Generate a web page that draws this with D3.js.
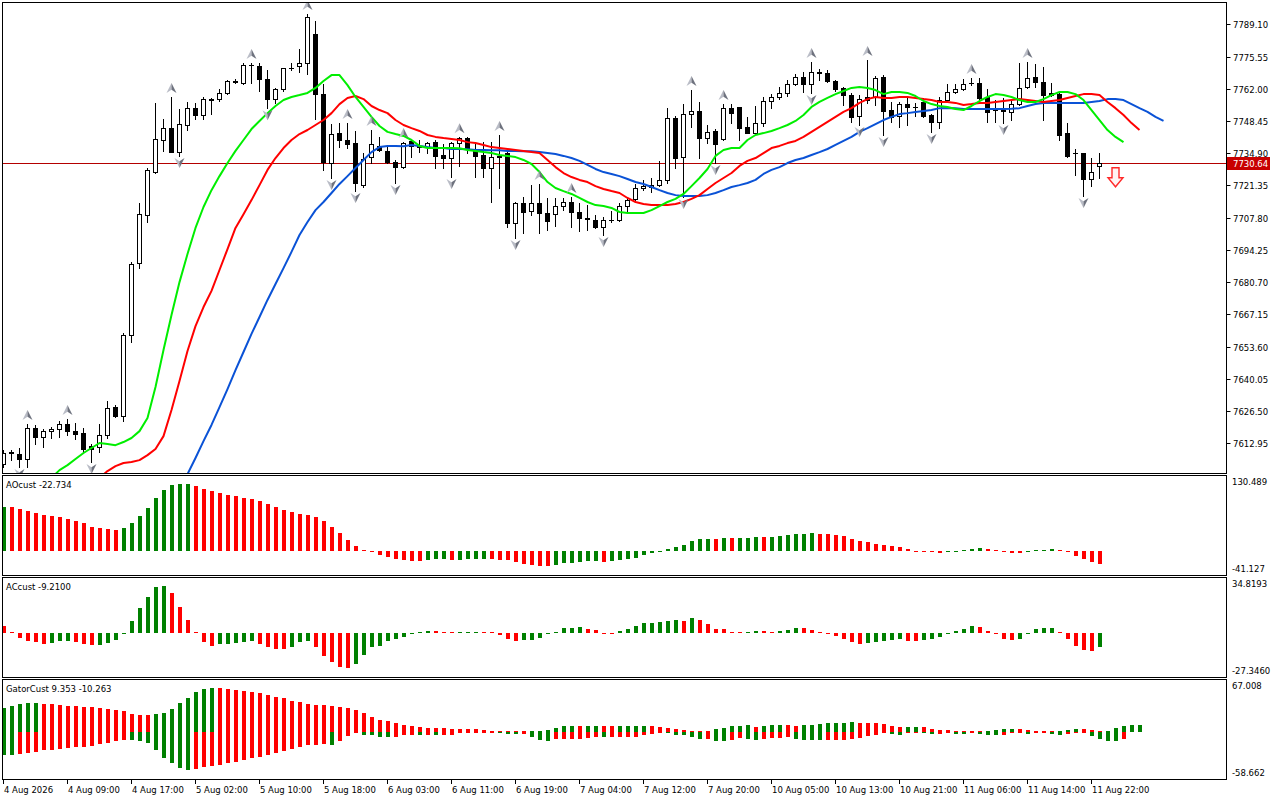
<!DOCTYPE html>
<html>
<head>
<meta charset="utf-8">
<script src="https://cdn.jsdelivr.net/npm/d3@7"></script>
<style>
  body { margin: 0; background: #fff; }
  svg { display: block; }
  text { font-family: "DejaVu Sans", sans-serif; font-size: 8.5px; fill: #000; }
</style>
</head>
<body>
<svg id="chart" width="1280" height="800"></svg>
<script>
// ---- candles (hourly bars) ----
var opens = [7604.1,7609.2,7608.3,7606.2,7619.3,7615.6,7618.0,7618.9,7621.0,7618.0,
  7617.2,7611.7,7611.3,7616.4,7628.1,7624.4,7658.4,7688.7,7708.9,7727.0,
  7740.5,7745.5,7735.4,7746.8,7753.9,7751.0,7757.7,7757.7,7760.3,7764.9,
  7764.5,7772.0,7771.6,7766.2,7757.7,7761.9,7770.8,7771.6,7772.9,7785.1,
  7759.8,7730.8,7743.4,7740.5,7739.2,7721.6,7733.3,7738.0,7735.9,7731.2,
  7729.1,7740.1,7738.0,7737.5,7739.6,7734.2,7732.9,7739.2,7741.3,7736.7,
  7734.2,7728.7,7733.8,7735.0,7705.6,7714.0,7710.6,7714.0,7709.8,7709.3,
  7712.7,7714.4,7710.2,7707.7,7706.8,7703.9,7706.8,7706.8,7712.7,7715.7,
  7720.3,7720.7,7721.5,7723.7,7749.7,7733.3,7751.4,7752.7,7741.3,7744.3,
  7740.9,7753.9,7754.4,7745.9,7743.4,7747.6,7756.9,7758.6,7760.3,7764.1,
  7767.0,7764.1,7769.1,7768.7,7765.3,7762.4,7759.4,7750.6,7758.6,7758.6,
  7767.0,7753.1,7750.6,7755.6,7754.4,7756.5,7751.0,7748.1,7757.3,7760.7,
  7761.9,7764.5,7764.5,7758.6,7753.1,7753.1,7752.3,7755.6,7762.8,7767.0,
  7764.9,7760.3,7759.8,7743.4,7735.0,7735.0,7724.1,7729.5];
var highs = [7610.0,7610.0,7610.9,7621.0,7620.6,7618.9,7619.7,7622.3,7623.1,7621.4,
  7619.3,7612.6,7621.0,7630.7,7629.0,7659.3,7689.1,7714.0,7728.7,7756.1,
  7749.3,7758.6,7753.5,7756.5,7756.1,7758.6,7758.2,7761.9,7765.7,7766.2,
  7772.9,7772.9,7772.9,7769.9,7762.4,7770.8,7772.9,7778.8,7793.5,7790.6,
  7764.1,7747.2,7747.6,7747.6,7744.3,7735.0,7744.7,7741.7,7737.5,7732.1,
  7739.6,7740.5,7740.5,7739.6,7740.5,7738.8,7739.6,7741.7,7741.7,7739.6,
  7739.6,7739.6,7742.6,7735.4,7714.4,7716.5,7721.5,7722.0,7716.1,7716.1,
  7716.1,7716.5,7714.0,7713.1,7708.9,7708.1,7710.6,7714.0,7716.5,7722.0,
  7723.7,7724.5,7731.6,7753.9,7750.6,7755.6,7761.5,7756.5,7746.8,7745.1,
  7755.6,7755.6,7754.4,7750.2,7754.8,7758.6,7759.8,7762.8,7765.7,7768.3,
  7769.1,7773.3,7770.4,7769.9,7765.7,7762.8,7760.3,7759.4,7774.2,7767.4,
  7767.8,7756.5,7756.5,7758.6,7756.1,7758.2,7751.4,7758.6,7764.1,7764.1,
  7766.2,7766.6,7766.6,7761.9,7757.3,7758.2,7757.3,7772.9,7773.3,7772.5,
  7771.2,7764.5,7760.3,7747.6,7736.7,7735.0,7732.9,7735.0];
var lows = [7602.9,7605.8,7602.9,7602.9,7612.6,7611.3,7615.1,7615.6,7616.4,7614.7,
  7608.8,7605.0,7609.2,7615.1,7623.9,7622.3,7655.5,7686.6,7706.0,7726.6,
  7735.9,7735.4,7733.8,7744.7,7749.3,7749.3,7751.4,7756.9,7759.8,7764.5,
  7764.1,7764.5,7761.1,7753.9,7756.1,7761.1,7769.9,7769.1,7768.3,7749.3,
  7727.9,7724.5,7737.5,7737.1,7719.0,7720.7,7730.8,7735.9,7730.8,7722.4,
  7728.7,7733.3,7735.4,7735.0,7728.7,7728.7,7724.9,7729.5,7735.0,7724.9,
  7724.9,7714.4,7720.3,7703.9,7699.3,7701.4,7708.9,7701.4,7702.6,7704.3,
  7711.0,7703.9,7702.2,7702.6,7703.5,7700.5,7706.0,7706.4,7710.6,7715.2,
  7719.4,7718.6,7721.1,7722.4,7728.7,7716.5,7745.9,7732.9,7739.2,7730.8,
  7740.5,7747.6,7740.5,7743.4,7742.6,7746.4,7753.9,7757.7,7759.0,7763.6,
  7760.7,7760.3,7765.7,7764.9,7761.1,7755.2,7748.1,7746.8,7756.1,7755.2,
  7742.6,7748.1,7745.9,7746.8,7750.6,7750.2,7743.9,7745.5,7756.5,7760.3,
  7761.5,7763.6,7757.3,7748.1,7748.1,7747.6,7748.9,7755.2,7762.4,7762.8,
  7748.9,7759.0,7740.5,7733.3,7725.8,7716.9,7721.1,7724.5];
var closes = [7608.8,7608.8,7606.2,7619.3,7615.6,7618.0,7618.9,7621.0,7618.0,7616.8,
  7610.5,7610.5,7616.4,7627.7,7624.4,7658.4,7688.3,7709.3,7727.9,7740.9,
  7745.5,7735.4,7747.2,7753.9,7751.0,7757.7,7757.3,7760.3,7765.3,7765.3,
  7772.0,7771.9,7766.2,7757.7,7761.9,7770.8,7770.9,7772.9,7792.2,7759.8,
  7731.2,7743.0,7740.5,7738.8,7722.4,7732.5,7738.8,7736.3,7731.2,7729.1,
  7739.2,7738.0,7737.7,7739.2,7733.8,7732.9,7739.2,7741.3,7736.7,7733.8,
  7728.7,7733.3,7733.3,7705.6,7714.0,7710.2,7714.0,7709.8,7706.4,7712.7,
  7714.4,7710.2,7707.7,7707.2,7703.9,7706.8,7706.9,7712.7,7715.2,7720.3,
  7721.1,7721.5,7723.7,7749.7,7732.9,7751.4,7752.7,7741.3,7743.9,7738.8,
  7753.9,7751.8,7745.5,7743.4,7747.6,7756.9,7758.6,7760.3,7764.1,7767.0,
  7764.1,7769.1,7768.7,7765.3,7761.9,7759.4,7750.2,7757.7,7757.3,7766.6,
  7752.7,7750.2,7755.6,7754.4,7754.3,7750.6,7748.1,7757.3,7760.7,7761.9,
  7764.1,7764.6,7758.2,7752.3,7753.2,7752.7,7755.6,7762.4,7766.6,7764.9,
  7759.4,7759.4,7742.6,7733.8,7734.9,7724.1,7727.0,7730.64];

// ---- alligator lines, as plotted (already shifted), first bar index of each ----
var jawStart = 22;
var jaw = [7591.1,7599.9,7606.7,7613.8,7620.6,7628.1,7635.7,7643.7,7651.3,7658.9,
  7666.0,7673.2,7679.9,7686.6,7693.4,7700.5,7706.0,7711.0,7714.4,7718.2,
  7722.0,7725.3,7728.7,7732.1,7735.4,7737.5,7738.0,7738.0,7737.9,7738.4,
  7738.0,7737.5,7737.1,7737.1,7736.7,7736.7,7736.6,7736.3,7736.3,7736.2,
  7736.2,7735.9,7735.9,7735.8,7735.8,7735.4,7735.0,7734.6,7733.8,7732.9,
  7731.7,7730.0,7728.3,7727.0,7726.2,7725.3,7724.1,7722.8,7722.0,7720.7,
  7719.4,7718.2,7717.3,7716.9,7716.9,7716.9,7717.3,7718.2,7719.4,7720.7,
  7721.5,7722.4,7723.7,7726.2,7727.9,7729.1,7730.8,7732.1,7732.9,7734.2,
  7735.4,7736.7,7738.4,7740.1,7741.8,7743.9,7745.5,7747.2,7748.9,7750.2,
  7751.4,7751.8,7752.3,7752.7,7753.1,7753.9,7754.0,7753.9,7753.5,7753.5,
  7753.5,7753.5,7753.5,7753.5,7753.6,7753.9,7754.8,7755.6,7756.1,7756.1,
  7756.1,7756.1,7756.1,7756.1,7756.5,7756.9,7757.7,7757.7,7757.3,7755.6,
  7753.9,7752.3,7750.2,7748.5];
var teethStart = 12;
var teeth = [7598.3,7601.2,7603.3,7604.6,7605.0,7605.8,7607.9,7610.5,7615.9,7626.9,
  7639.1,7651.7,7662.2,7670.2,7677.0,7685.8,7694.6,7703.5,7709.3,7715.2,
  7721.5,7727.9,7732.9,7737.1,7740.5,7743.0,7744.7,7746.8,7748.9,7751.8,
  7755.6,7758.2,7759.0,7757.7,7754.8,7753.1,7751.8,7748.9,7746.8,7745.5,
  7744.3,7742.6,7741.8,7741.3,7740.9,7740.5,7739.6,7739.2,7738.4,7737.5,
  7737.1,7736.7,7736.3,7735.9,7735.4,7735.0,7732.1,7729.1,7726.6,7724.9,
  7723.7,7722.8,7721.1,7719.9,7719.0,7718.2,7716.1,7714.4,7713.6,7713.1,
  7713.1,7713.1,7713.6,7714.4,7715.7,7717.3,7719.9,7722.4,7724.5,7726.6,
  7729.6,7731.7,7732.9,7735.0,7737.1,7738.0,7739.2,7740.1,7741.8,7743.9,
  7746.0,7748.1,7750.2,7752.3,7753.9,7756.1,7757.7,7758.6,7758.2,7758.2,
  7758.6,7758.6,7758.2,7757.7,7757.3,7756.5,7756.5,7756.1,7755.2,7755.6,
  7756.1,7756.1,7756.5,7756.9,7757.3,7757.7,7757.3,7756.9,7756.5,7756.9,
  7757.3,7758.2,7759.0,7759.8,7759.8,7759.4,7756.5,7753.9,7751.0,7747.6,
  7744.7];
var lipsStart = 6;
var lips = [7598.3,7601.6,7603.7,7606.3,7608.8,7610.9,7613.0,7612.6,7612.1,7613.4,
  7615.1,7618.0,7623.5,7636.6,7652.1,7666.9,7680.7,7692.5,7703.5,7712.3,
  7719.4,7725.3,7730.8,7735.9,7740.5,7745.1,7748.5,7751.8,7754.8,7757.3,
  7758.6,7759.4,7760.3,7762.4,7765.3,7767.8,7767.8,7763.6,7758.6,7754.4,
  7750.2,7746.4,7743.9,7743.0,7742.2,7740.5,7738.0,7737.1,7737.1,7737.1,
  7737.1,7737.0,7736.3,7735.9,7735.4,7735.0,7734.2,7733.8,7733.3,7732.1,
  7730.4,7727.0,7722.8,7720.3,7719.0,7717.8,7716.1,7714.4,7713.1,7712.7,
  7711.9,7710.2,7709.8,7709.8,7709.8,7711.0,7712.7,7714.4,7715.7,7717.8,
  7721.1,7724.5,7728.3,7733.8,7736.3,7737.1,7737.1,7740.5,7742.6,7743.4,
  7744.3,7745.5,7746.8,7748.5,7751.0,7754.4,7756.5,7758.2,7759.8,7761.1,
  7762.4,7762.8,7762.4,7761.5,7759.8,7760.7,7760.7,7760.3,7759.0,7756.9,
  7755.6,7754.8,7754.4,7753.5,7753.1,7754.8,7756.9,7758.6,7759.8,7759.4,
  7758.6,7757.3,7756.5,7756.5,7757.7,7759.4,7760.7,7760.7,7759.8,7757.3,
  7753.1,7748.9,7744.7,7741.8,7739.6];

// ---- fractals (bar indices) ----
var upFractals = [3, 8, 21, 31, 38, 43, 46, 50, 57, 62, 67, 71, 86, 90, 101, 108, 121, 128];
var downFractals = [2, 11, 22, 33, 41, 44, 49, 56, 64, 75, 85, 89, 101, 107, 110, 116, 125, 135];

// ---- oscillators ----
var aoBefore = 79.0;
var aoValues = [80.0,79.6,75.9,72.8,68.6,65.0,63.2,62.0,58.4,54.8,
  50.6,44.6,41.5,40.3,37.9,41.5,50.6,63.2,77.7,95.7,
  110.2,119.2,121.6,121.7,117.4,112.0,108.4,104.8,101.1,99.3,
  95.7,93.9,90.3,84.9,79.5,74.1,70.4,66.8,65.0,61.4,
  54.2,43.3,32.5,20.5,9.0,1.8,-0.6,-7.2,-10.2,-13.8,
  -15.7,-16.9,-18.1,-15.7,-13.8,-13.6,-15.7,-15.1,-13.8,-13.7,
  -13.6,-14.0,-15.1,-16.3,-19.9,-23.5,-25.3,-27.1,-27.2,-25.3,
  -21.1,-21.0,-19.9,-18.1,-18.0,-19.9,-18.1,-16.3,-14.4,-12.6,
  -6.6,-3.6,-1.2,3.6,7.2,10.8,18.1,21.7,21.8,21.6,
  23.5,23.4,23.5,23.6,25.3,25.2,25.3,27.1,28.9,30.7,
  30.8,32.5,30.7,30.6,28.9,27.1,21.7,18.1,16.3,12.6,
  10.8,9.0,7.2,3.6,-0.6,-1.2,-1.3,-3.0,-1.8,-1.2,
  1.8,3.6,5.4,3.6,0.6,-0.6,-3.0,-3.1,-1.8,1.8,
  1.9,3.6,1.8,-1.8,-9.0,-14.4,-19.9,-22.734];
var aoRange = [-41.127, 130.489];

var acBefore = 5.5;
var acValues = [4.4,0.3,-3.5,-5.5,-5.9,-7.2,-6.5,-5.5,-5.4,-5.9,
  -7.2,-7.9,-7.8,-6.5,-4.8,-0.1,7.6,16.1,23.3,29.9,
  30.8,26.0,16.8,8.3,0.2,-5.9,-8.7,-7.4,-7.3,-6.5,
  -5.9,-5.4,-7.2,-9.2,-10.5,-10.7,-9.2,-5.9,-5.2,-9.2,
  -15.3,-19.0,-22.2,-22.9,-20.3,-14.6,-9.2,-8.5,-5.2,-3.9,
  -2.6,-0.8,0.4,1.0,0.8,0.2,0.1,0.3,0.4,0.5,
  0.2,0.1,-1.8,-4.0,-5.2,-4.6,-4.5,-3.3,-0.3,0.2,
  3.3,3.4,3.5,2.6,2.0,-0.4,-0.5,1.1,2.4,4.4,
  6.3,6.4,7.0,7.6,8.3,7.6,9.6,8.3,5.7,2.4,
  2.3,0.3,0.2,0.3,1.1,1.0,0.4,1.1,1.7,3.1,
  3.0,1.7,0.3,-0.2,-2.0,-3.9,-5.9,-7.2,-6.5,-5.9,
  -5.2,-4.6,-3.9,-5.2,-5.3,-4.6,-3.9,-2.6,-0.3,1.1,
  2.4,4.4,3.7,1.1,-1.1,-3.9,-4.6,-3.9,-0.3,2.4,
  3.1,3.2,0.4,-3.9,-8.5,-11.1,-11.8,-9.21];
var acRange = [-27.346, 34.8193];

var gatorUpperBefore = 31.0;
var gatorUpper = [31.7,33.5,36.2,37.5,37.6,36.2,36.1,34.8,33.5,33.3,
  33.1,32.2,30.9,29.5,28.2,27.3,23.4,21.6,21.4,23.4,
  24.7,29.5,37.5,44.1,52.0,56.0,57.3,57.2,56.5,55.6,
  54.0,52.5,51.0,49.0,46.5,44.0,41.0,38.8,37.0,35.5,
  34.6,33.5,32.5,31.5,29.0,25.0,19.5,15.5,13.5,11.0,
  9.0,7.2,6.3,5.1,4.7,4.2,4.1,3.8,3.0,2.9,
  2.1,1.3,0.9,0.8,0.4,0.1,0.4,0.5,2.0,4.4,
  7.0,7.1,7.0,7.1,7.2,7.1,7.0,7.1,7.2,7.3,
  7.4,7.1,5.7,4.4,3.1,1.8,0.9,0.2,0.1,3.1,
  4.4,7.1,7.2,8.4,5.7,7.1,8.4,8.5,8.4,7.1,
  8.4,8.5,9.7,11.0,11.1,11.2,12.3,11.0,10.9,10.8,
  9.7,7.1,5.7,5.8,5.9,5.7,3.1,1.8,1.7,0.9,
  0.8,0.7,0.1,0.2,1.8,3.1,3.2,3.1,1.8,0.9,
  0.3,0.1,0.2,1.8,3.1,3.0,1.8,0.1,0.3,4.4,
  7.1,8.4,9.353];
var gatorLowerBefore = -30.5;
var gatorLower = [-30.9,-31.0,-30.0,-28.7,-26.9,-24.7,-24.6,-23.4,-21.6,-20.7,
  -20.3,-19.4,-16.8,-14.6,-12.3,-10.6,-11.0,-12.3,-15.4,-24.3,
  -35.3,-41.9,-48.5,-50.7,-48.9,-46.7,-45.4,-44.1,-41.9,-39.7,
  -37.9,-35.3,-33.1,-30.9,-28.2,-25.6,-22.9,-20.3,-18.0,-17.0,
  -16.5,-17.6,-12.2,-5.4,-2.0,-4.4,-4.6,-6.6,-7.1,-6.5,
  -4.9,-4.4,-4.8,-4.5,-4.9,-4.4,-4.0,-1.8,-1.5,-1.0,
  -0.9,-0.8,-1.8,-3.1,-3.5,-3.3,-6.6,-11.0,-12.3,-9.7,
  -9.6,-9.5,-9.4,-8.8,-7.4,-7.6,-7.5,-7.4,-7.3,-7.2,
  -4.4,-3.1,-2.2,-2.3,-4.4,-4.5,-7.5,-10.1,-10.0,-12.3,
  -12.4,-11.0,-8.8,-9.7,-11.0,-9.7,-8.8,-8.7,-7.5,-9.7,
  -11.0,-11.1,-11.2,-11.1,-11.0,-10.9,-9.7,-8.8,-6.2,-4.4,
  -2.2,-3.5,-4.4,-2.2,-1.8,-2.2,-3.1,-3.0,-2.2,-3.1,
  -3.2,-1.8,-3.5,-4.4,-4.5,-4.4,-1.8,-1.7,-3.1,-1.3,
  -1.2,-3.1,-4.4,-3.1,-1.8,-1.7,-5.7,-9.7,-12.3,-12.4,
  -10.263];
var gatorRange = [-58.662, 67.008];

// ---- axes ----
var priceRange = [7600.8, 7799.4];
var priceTicks = [7612.95, 7626.50, 7640.05, 7653.60, 7667.15, 7680.70, 7694.25,
  7707.80, 7721.35, 7734.90, 7748.45, 7762.00, 7775.55, 7789.10];
var timeTickBars = [0, 8, 16, 24, 32, 40, 48, 56, 64, 72, 80, 88, 96, 104, 112, 120, 128, 136];
var timeLabels = ["4 Aug 2026", "4 Aug 09:00", "4 Aug 17:00", "5 Aug 02:00", "5 Aug 10:00",
  "5 Aug 18:00", "6 Aug 03:00", "6 Aug 11:00", "6 Aug 19:00", "7 Aug 04:00", "7 Aug 12:00",
  "7 Aug 20:00", "10 Aug 05:00", "10 Aug 13:00", "10 Aug 21:00", "11 Aug 06:00",
  "11 Aug 14:00", "11 Aug 22:00"];
var lastPrice = 7730.64;
var sellSignal = { bar: 139, price: 7725.0 };

var GREEN = "#008000", RED = "#ff0000";
var axisX = 1226.5, leftX = 2.5;

var svg = d3.select("#chart");

// bar index -> pixel centre
var x = d3.scaleLinear().domain([0, 145]).range([3.5, 1163.5]);

var panels = [
  { id: "main",  top: 2.5,   bottom: 473.5 },
  { id: "ao",    top: 475.5, bottom: 575.5 },
  { id: "ac",    top: 577.5, bottom: 677.5 },
  { id: "gator", top: 679.5, bottom: 779.5 }
];

var defs = svg.append("defs");
panels.forEach(function(p) {
  defs.append("clipPath").attr("id", "clip-" + p.id)
    .append("rect")
    .attr("x", leftX + 0.5).attr("y", p.top + 0.5)
    .attr("width", axisX - leftX - 1).attr("height", p.bottom - p.top - 1);
});

var yMain = d3.scaleLinear().domain(priceRange).range([472, 0]);
var yAO = d3.scaleLinear().domain(aoRange).range([574, 479]);
var yAC = d3.scaleLinear().domain(acRange).range([674.5, 579.5]);
var yGator = d3.scaleLinear().domain(gatorRange).range([776, 681]);

var gMain = svg.append("g").attr("clip-path", "url(#clip-main)");

// bid line
var yBid = Math.round(yMain(lastPrice)) + 0.5;
gMain.append("line")
  .attr("x1", leftX).attr("x2", axisX)
  .attr("y1", yBid).attr("y2", yBid)
  .attr("stroke", "#b40000").attr("stroke-width", 1);

// candles
var candle = gMain.selectAll("g.candle")
  .data(closes)
  .enter().append("g").attr("class", "candle");

candle.append("line")
  .attr("x1", function(d, i) { return x(i); })
  .attr("x2", function(d, i) { return x(i); })
  .attr("y1", function(d, i) { return Math.round(yMain(highs[i])); })
  .attr("y2", function(d, i) { return Math.round(yMain(lows[i])) + 1; })
  .attr("stroke", "#000").attr("stroke-width", 1);

candle.each(function(c, i) {
  var g = d3.select(this);
  var yo = Math.round(yMain(opens[i])), yc = Math.round(yMain(c));
  var top = Math.min(yo, yc), bot = Math.max(yo, yc);
  if (bot - top < 1) {
    g.append("line")
      .attr("x1", x(i) - 2.5).attr("x2", x(i) + 2.5)
      .attr("y1", top + 0.5).attr("y2", top + 0.5)
      .attr("stroke", "#000");
  } else {
    g.append("rect")
      .attr("x", x(i) - 2).attr("y", top + 0.5)
      .attr("width", 4).attr("height", bot - top)
      .attr("fill", c >= opens[i] ? "#fff" : "#000")
      .attr("stroke", "#000").attr("stroke-width", 1);
  }
});

// alligator
var lineGen = function(start) {
  return d3.line()
    .x(function(d, i) { return x(start + i); })
    .y(function(d) { return yMain(d); });
};
[[jaw, jawStart, "#0a52d6"], [teeth, teethStart, "#ff0000"], [lips, lipsStart, "#00ee00"]]
  .forEach(function(s) {
    gMain.append("path")
      .datum(s[0])
      .attr("d", lineGen(s[1]))
      .attr("fill", "none")
      .attr("stroke", s[2])
      .attr("stroke-width", 2)
      .attr("stroke-linejoin", "round");
  });

// fractal arrowheads, two-tone grey
function arrowHead(g, cx, cy, dir) {
  var s = 5 * dir;
  g.append("path")
    .attr("d", "M" + cx + "," + (cy - s) + " L" + cx + "," + (cy + s * 0.35) + " L" + (cx - 5) + "," + (cy + s) + "Z")
    .attr("fill", "#b9bcc6");
  g.append("path")
    .attr("d", "M" + cx + "," + (cy - s) + " L" + (cx + 5) + "," + (cy + s) + " L" + cx + "," + (cy + s * 0.35) + "Z")
    .attr("fill", "#6e727e");
}
var gFr = gMain.append("g");
upFractals.forEach(function(b) { arrowHead(gFr, x(b), yMain(highs[b]) - 9, 1); });
downFractals.forEach(function(b) { arrowHead(gFr, x(b), yMain(lows[b]) + 7, -1); });

// sell signal arrow
(function() {
  var cx = x(sellSignal.bar), cy = yMain(sellSignal.price);
  var pts = [[cx - 3.5, cy - 9], [cx + 3.5, cy - 9], [cx + 3.5, cy + 1], [cx + 7.5, cy + 1],
             [cx, cy + 10], [cx - 7.5, cy + 1], [cx - 3.5, cy + 1]];
  gMain.append("path")
    .attr("d", "M" + pts.join("L") + "Z")
    .attr("fill", "#fff4f4")
    .attr("stroke", "#ff2a2a")
    .attr("stroke-width", 1.4);
})();

// oscillator histograms
function histogram(id, values, before, yScale, colorByAbs) {
  var g = svg.append("g").attr("clip-path", "url(#clip-" + id + ")");
  var y0 = Math.round(yScale(0));
  g.selectAll("rect")
    .data(values)
    .enter().append("rect")
    .attr("x", function(d, i) { return x(i) - 1.5; })
    .attr("width", 4)
    .attr("y", function(d) {
      var h = Math.max(1, Math.abs(Math.round(yScale(d)) - y0));
      return d >= 0 ? y0 - h : y0;
    })
    .attr("height", function(d) { return Math.max(1, Math.abs(Math.round(yScale(d)) - y0)); })
    .attr("fill", function(d, i) {
      var prev = i ? values[i - 1] : before;
      if (colorByAbs) return Math.abs(d) > Math.abs(prev) ? GREEN : RED;
      return d > prev ? GREEN : RED;
    });
}
histogram("ao", aoValues, aoBefore, yAO, false);
histogram("ac", acValues, acBefore, yAC, false);
histogram("gator", gatorUpper, gatorUpperBefore, yGator, true);
histogram("gator", gatorLower, gatorLowerBefore, yGator, true);

// frames
panels.forEach(function(p) {
  svg.append("rect")
    .attr("x", leftX).attr("y", p.top)
    .attr("width", axisX - leftX).attr("height", p.bottom - p.top)
    .attr("fill", "none").attr("stroke", "#000").attr("stroke-width", 1);
});

// price axis
priceTicks.forEach(function(v) {
  var yy = Math.round(yMain(v)) + 0.5;
  svg.append("line").attr("x1", axisX).attr("x2", axisX + 4)
    .attr("y1", yy).attr("y2", yy).attr("stroke", "#000");
  svg.append("text").attr("x", 1233).attr("y", yy + 3).text(v.toFixed(2));
});
svg.append("rect")
  .attr("x", axisX + 0.5).attr("y", yBid - 6.5)
  .attr("width", 43).attr("height", 13)
  .attr("fill", "#c80000");
svg.append("text").attr("x", 1233).attr("y", yBid + 3)
  .style("fill", "#fff").text(lastPrice.toFixed(2));

// indicator scale labels and titles
function panelText(p, title, range, digits) {
  svg.append("text").attr("x", 6).attr("y", p.top + 12.5).text(title);
  svg.append("text").attr("x", 1232).attr("y", p.top + 9).text(range[1].toFixed(digits));
  svg.append("text").attr("x", 1232).attr("y", p.bottom - 4).text(range[0].toFixed(digits));
}
panelText(panels[1], "AOcust " + aoValues[aoValues.length - 1].toFixed(3), aoRange, 3);
panelText(panels[2], "ACcust " + acValues[acValues.length - 1].toFixed(4), acRange, 4);
panelText(panels[3], "GatorCust " + gatorUpper[gatorUpper.length - 1].toFixed(3) + " " +
  gatorLower[gatorLower.length - 1].toFixed(3), gatorRange, 3);

// time axis
timeTickBars.forEach(function(b, k) {
  svg.append("line").attr("x1", x(b)).attr("x2", x(b))
    .attr("y1", 779.5).attr("y2", 784).attr("stroke", "#000");
  svg.append("text").attr("x", x(b) + 0.5).attr("y", 793).text(timeLabels[k]);
});
</script>
</body>
</html>
